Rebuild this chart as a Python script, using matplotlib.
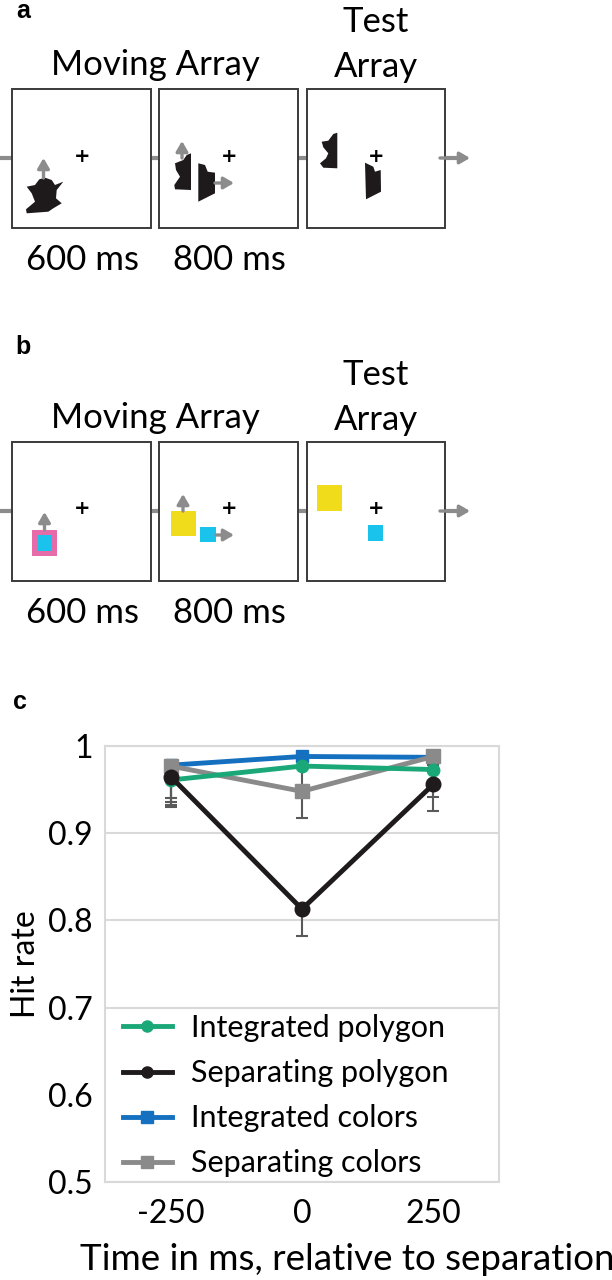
import numpy as np
import matplotlib
matplotlib.use("Agg")
import matplotlib.pyplot as plt
from matplotlib.patches import Polygon, Rectangle

plt.rcParams['font.family'] = ['Lato', 'DejaVu Sans']

# ---- chart data (panel c) ----
times = [-250, 0, 250]
series_names = ["Integrated polygon", "Separating polygon", "Integrated colors", "Separating colors"]
integrated_polygon = [0.961, 0.977, 0.973]
separating_polygon = [0.965, 0.813, 0.956]
integrated_colors = [0.978, 0.988, 0.987]
separating_colors = [0.977, 0.948, 0.988]
# lower error bars only
err_integrated_polygon = [0.031, 0.029, 0.031]
err_separating_polygon = [0.029, 0.031, 0.030]
err_integrated_colors = [0.038, 0.010, 0.012]
err_separating_colors = [0.045, 0.030, 0.010]
yticks = [0.5, 0.6, 0.7, 0.8, 0.9, 1.0]
ytick_labels = ["0.5", "0.6", "0.7", "0.8", "0.9", "1"]
xtick_labels = ["-250", "0", "250"]

# ---- schematic shapes (pixel coords of the figure) ----
shape_a1 = [(26.7, 186.7), (35, 185), (39.3, 179.3), (45, 177.7), (51.7, 180), (55, 185), (63.3, 181.7),
            (56.7, 190), (56, 198.3), (61.7, 203.3), (53.3, 208.3), (48.3, 211.7), (26.7, 213.3),
            (26, 209.3), (35, 201.7), (31.7, 193.3)]
shape_a2_left = [(175, 163.3), (183.3, 160), (186.7, 155), (191, 153.3), (191, 190), (175, 189.3),
                 (174.3, 185), (180, 176.7), (176, 170)]
shape_a2_right = [(198.3, 163.3), (205, 165), (207.7, 171.7), (215, 172.7), (215, 193.3), (198.3, 201.7)]
shape_a3_left = [(321.7, 141.7), (328.3, 140.7), (333.3, 134), (337.3, 132.7), (337.3, 168.3),
                 (323.3, 167.7), (320, 163.3), (326, 158.3), (328.3, 153.3), (323.3, 147.3)]
shape_a3_right = [(365, 162.7), (373.3, 166.7), (375, 171.7), (380.7, 170), (381, 191.7), (366, 199.3)]

YELLOW = '#F1DC1C'
CYAN = '#1AC3EC'
PINK = '#E66CA9'
ARROW_GREY = '#8C8C8C'
BOX_EDGE = '#3A3A3A'

fig = plt.figure(figsize=(6.12, 12.8), dpi=100)
ov = fig.add_axes([0, 0, 1, 1])
ov.set_xlim(0, 612)
ov.set_ylim(1280, 0)
ov.axis('off')

FS = 21
HFS = 25


def arrow(x0, y0, x1, y1):
    ov.annotate("", xy=(x1, y1), xytext=(x0, y0),
                arrowprops=dict(arrowstyle='-|>,head_length=0.6,head_width=0.35', color=ARROW_GREY,
                                lw=2.4, shrinkA=0, shrinkB=0), zorder=4)


def frame_row(ytop, yline, letter, yletter):
    boxes = [(12, 151), (159, 298), (307, 445)]
    # connector line
    ov.plot([0, 458], [yline, yline], color=ARROW_GREY, lw=3, zorder=1, solid_capstyle='butt')
    arrow(440, yline, 470, yline)
    for x0, x1 in boxes:
        ov.add_patch(Rectangle((x0, ytop), x1 - x0, 139, facecolor='white', edgecolor=BOX_EDGE,
                               lw=1.4, zorder=2))
    ov.text(23, yletter, letter, fontsize=18, fontweight='bold', family='Liberation Sans',
            ha='center', va='center')
    ov.text(155, ytop - 24, "Moving Array", fontsize=HFS, ha='center', va='center')
    ov.text(376, ytop - 67, "Test", fontsize=HFS, ha='center', va='center')
    ov.text(376, ytop - 22, "Array", fontsize=HFS, ha='center', va='center')
    ov.text(82, ytop + 171, "600 ms", fontsize=HFS, ha='center', va='center')
    ov.text(229, ytop + 171, "800 ms", fontsize=HFS, ha='center', va='center')


def plus(x, y):
    ov.text(x, y, "+", fontsize=14, fontweight='bold', ha='center', va='center',
            family='DejaVu Sans', zorder=5)


# panel a
frame_row(89, 158, "a", 11)
for pts in [shape_a1, shape_a2_left, shape_a2_right, shape_a3_left, shape_a3_right]:
    ov.add_patch(Polygon(pts, closed=True, facecolor='#1E1A1B', edgecolor='none', zorder=3))
arrow(43.5, 178, 43.5, 158)
arrow(182, 158, 182, 141)
arrow(215, 183, 234, 183)
plus(82, 157)
plus(229, 157)
plus(376, 157)

# panel b
frame_row(442, 511, "b", 347)
ov.add_patch(Rectangle((32, 530), 25, 26, facecolor=PINK, edgecolor='none', zorder=3))
ov.add_patch(Rectangle((37, 535), 15, 16, facecolor=CYAN, edgecolor='none', zorder=3))
ov.add_patch(Rectangle((171, 511), 25, 25, facecolor=YELLOW, edgecolor='none', zorder=3))
ov.add_patch(Rectangle((200, 527), 16, 15, facecolor=CYAN, edgecolor='none', zorder=3))
ov.add_patch(Rectangle((317, 485), 25, 26, facecolor=YELLOW, edgecolor='none', zorder=3))
ov.add_patch(Rectangle((368, 525), 15, 16, facecolor=CYAN, edgecolor='none', zorder=3))
arrow(44.5, 530, 44.5, 512)
arrow(183, 511, 183, 494)
arrow(216, 535, 234, 535)
plus(82, 509)
plus(229, 509)
plus(376, 509)

ov.text(20, 702, "c", fontsize=18, fontweight='bold', family='Liberation Sans', ha='center', va='center')

# ---- panel c chart ----
ax = fig.add_axes([105 / 612, (1280 - 1182) / 1280, 394 / 612, 436 / 1280])
GRID = '#D9D9D9'
ax.set_xlim(-375, 375)
ax.set_ylim(0.5, 1.0)
ax.set_yticks(yticks)
ax.set_yticklabels(ytick_labels)
ax.set_xticks(times)
ax.set_xticklabels(xtick_labels)
ax.tick_params(length=0, labelsize=FS + 2, pad=9)
ax.tick_params(axis='x', pad=12)
ax.yaxis.grid(True, color=GRID, lw=1.5)
# legend sits over the 0.6 gridline in the original
ax.get_ygridlines()[1].set_visible(False)
ax.set_axisbelow(True)
for s in ax.spines.values():
    s.set_color(GRID)
    s.set_linewidth(1.5)

styles = [
    (integrated_polygon, err_integrated_polygon, '#1BA878', 'o', 9, 4),
    (separating_polygon, err_separating_polygon, '#1F1A1C', 'o', 10.5, 5),
    (integrated_colors, err_integrated_colors, '#1570C0', 's', 8.5, 2),
    (separating_colors, err_separating_colors, '#8A8A8A', 's', 9.5, 3),
]
handles = []
for name, (vals, errs, col, mk, ms, z) in zip(series_names, styles):
    ax.errorbar(times, vals, yerr=[errs, [0] * len(errs)], fmt='none', ecolor='#5A5A5A',
                elinewidth=1.5, capsize=4, capthick=1.5, zorder=1.5)
    h, = ax.plot(times, vals, color=col, lw=3.5, marker=mk, markersize=ms, zorder=z, label=name)
    handles.append(h)

leg = ax.legend(handles=handles, loc='upper left', bbox_to_anchor=(0.045, 0.385), fontsize=FS + 1,
                frameon=False, handlelength=1.6, handletextpad=0.65, labelspacing=0.56,
                borderpad=0.0, borderaxespad=0.0)
for lh in leg.get_lines():
    lh.set_markersize(8)

ax.set_ylabel("Hit rate", fontsize=FS + 2)
ax.yaxis.set_label_coords(-64 / 394, 0.5)
fig.text(347 / 612, 1 - 1260 / 1280, "Time in ms, relative to separation", fontsize=26.5,
         ha='center', va='center')

fig.savefig("out.png", dpi=100)
